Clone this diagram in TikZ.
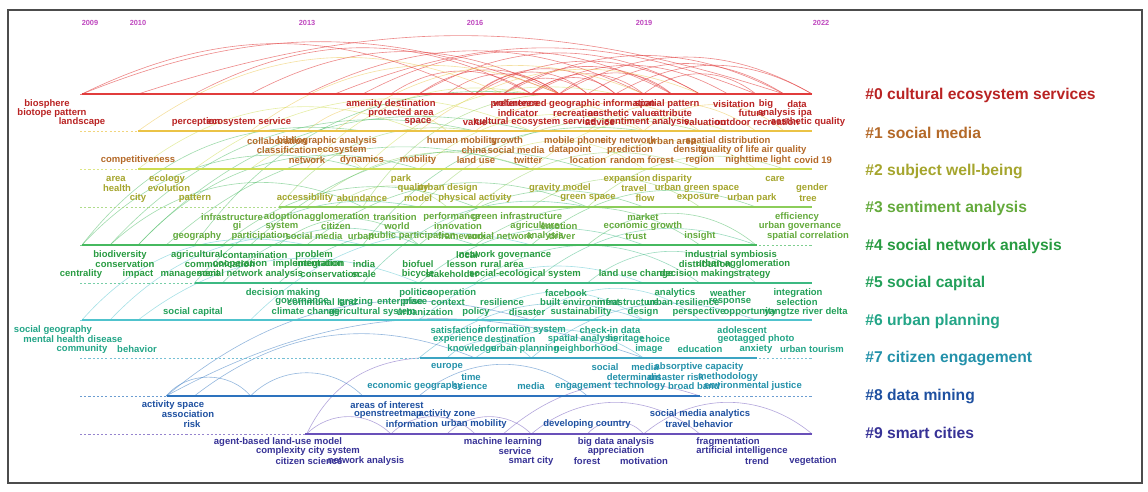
\documentclass[tikz,border=0pt]{standalone}
\usepackage{fontspec}
\setmainfont{Liberation Sans}
\usepackage{tikz}

\definecolor{t0}{RGB}{185,35,35}
\definecolor{t1}{RGB}{180,105,40}
\definecolor{t2}{RGB}{165,165,45}
\definecolor{t3}{RGB}{100,170,60}
\definecolor{t4}{RGB}{40,155,65}
\definecolor{t5}{RGB}{35,160,90}
\definecolor{t6}{RGB}{35,165,135}
\definecolor{t7}{RGB}{35,145,170}
\definecolor{t8}{RGB}{30,80,160}
\definecolor{t9}{RGB}{55,50,150}
\definecolor{l0}{RGB}{225,60,60}
\definecolor{l1}{RGB}{235,195,70}
\definecolor{l2}{RGB}{205,220,80}
\definecolor{l3}{RGB}{140,205,90}
\definecolor{l4}{RGB}{70,185,95}
\definecolor{l5}{RGB}{60,185,130}
\definecolor{l6}{RGB}{80,195,205}
\definecolor{l7}{RGB}{60,165,195}
\definecolor{l8}{RGB}{45,115,190}
\definecolor{l9}{RGB}{105,80,185}
\definecolor{yearcol}{RGB}{190,70,190}

\tikzstyle{kw} = [font=\bfseries\fontsize{5.4}{6}\selectfont, inner sep=0pt]
\tikzstyle{clab} = [font=\bfseries\fontsize{8.9}{10}\selectfont, inner sep=0pt, anchor=west]
\tikzstyle{year} = [font=\bfseries\fontsize{4.2}{5}\selectfont, inner sep=0pt, text=yearcol]
\tikzstyle{tline} = [line width=1.1pt]
\tikzstyle{tfaint} = [line width=0.4pt, dash pattern=on 1.2pt off 1.2pt]
\tikzstyle{arc} = [line width=0.35pt, opacity=0.5]
\tikzstyle{frame} = [draw=black!70, line width=0.6pt]

\begin{document}
\begin{tikzpicture}[x=0.02cm, y=-0.02cm]
\useasboundingbox (0,0) rectangle (1148,492);
\draw [frame] (8,10) rectangle (1142,483);

% year marks
\node [year] (y2009) at (90,23) {2009};
\node [year] (y2010) at (138,23) {2010};
\node [year] (y2013) at (307,23) {2013};
\node [year] (y2016) at (475,23) {2016};
\node [year] (y2019) at (644,23) {2019};
\node [year] (y2022) at (821,23) {2022};

% anchor points on every timeline, half a year apart
\foreach \c/\yy in {0/94,1/131,2/169,3/207,4/245,5/283,6/320,7/358,8/396,9/434}
  \foreach \k in {0,...,26}
    \coordinate (p\c-\k) at ({82+28.08*\k},\yy);

% links
\foreach \a/\b/\t in {0-0/0-17/22, 0-0/0-14/26, 0-4/0-16/28, 0-6/0-17/28, 0-8/0-20/26, 0-10/0-21/28, 0-12/0-22/30, 0-14/0-19/38, 0-15/0-21/34, 0-16/0-23/30, 0-17/0-26/30, 0-18/0-25/32, 0-20/0-24/38, 0-13/0-17/38, 0-16/0-20/38, 0-11/0-16/34, 0-19/0-26/30, 0-15/0-18/40, 0-2/0-25/18, 0-9/0-24/22, 0-14/0-22/30, 0-14/0-18/42, 0-16/0-19/42, 0-17/0-21/40, 0-12/0-17/36, 0-15/0-25/28}
  \draw [arc, draw=l0, opacity=0.6] (p\a) to[bend left=\t] (p\b);
\foreach \a/\b/\t in {1-2/0-15/30, 1-6/0-17/30, 1-9/0-20/30, 1-12/0-22/30, 1-14/1-20/35, 1-16/1-22/35, 1-18/1-24/35, 1-8/1-13/40, 1-20/1-25/40}
  \draw [arc, draw=l1] (p\a) to[bend left=\t] (p\b);
\foreach \a/\b/\t in {2-2/1-12/30, 2-4/1-16/30, 2-8/0-16/30, 2-12/1-20/30, 2-14/2-20/35, 2-6/2-10/40, 2-10/0-19/28, 2-16/1-23/30, 2-18/2-24/35}
  \draw [arc, draw=l2] (p\a) to[bend left=\t] (p\b);
\foreach \a/\b/\t in {3-7/1-14/30, 3-8/2-16/30, 3-10/0-18/30, 3-12/1-22/30, 3-14/2-22/30, 3-16/3-22/35, 3-9/3-13/40, 3-18/2-25/30}
  \draw [arc, draw=l3] (p\a) to[bend left=\t] (p\b);
\foreach \a/\b/\t in {4-0/2-10/32, 4-1/1-14/30, 4-2/1-16/30, 4-3/2-16/30, 4-4/0-16/30, 4-5/3-14/30, 4-6/2-18/30, 4-8/3-18/30, 4-10/1-20/30, 4-12/3-20/30, 4-14/4-22/35, 4-16/3-24/30, 4-1/3-10/34, 4-2/2-12/32, 4-0/1-10/30, 4-7/4-12/40, 4-18/4-24/40}
  \draw [arc, draw=l4] (p\a) to[bend left=\t] (p\b);
\foreach \a/\b/\t in {5-4/3-12/30, 5-7/4-14/30, 5-10/3-18/30, 5-12/4-20/30, 5-14/5-22/35, 5-16/4-24/30, 5-5/4-12/35, 5-18/5-24/40}
  \draw [arc, draw=l5] (p\a) to[bend left=\t] (p\b);
\foreach \a/\b/\t in {6-0/4-8/30, 6-2/5-12/30, 6-6/4-16/30, 6-12/5-20/30, 6-14/6-20/35, 6-1/4-10/30, 6-16/6-22/40}
  \draw [arc, draw=l6] (p\a) to[bend left=\t] (p\b);
\foreach \a/\b/\t in {7-12/6-20/30, 7-14/7-20/35, 7-16/6-24/30, 7-13/7-16/45}
  \draw [arc, draw=l7] (p\a) to[bend left=\t] (p\b);
\foreach \a/\b/\t in {8-3/6-16/28, 8-3/8-6/50, 8-4/7-14/30, 8-6/8-10/45, 8-12/8-18/40, 8-3/7-20/24}
  \draw [arc, draw=l8] (p\a) to[bend left=\t] (p\b);
\foreach \a/\b/\t in {9-8/7-12/30, 9-8/9-11/45, 9-11/9-14/45, 9-13/9-16/45, 9-16/9-22/40, 9-18/9-20/50, 9-20/9-26/40, 9-15/8-22/30}
  \draw [arc, draw=l9] (p\a) to[bend left=\t] (p\b);

% timelines
\foreach \c/\yy/\s/\e in {0/94/82/812, 1/131/138/812, 2/169/138/812, 3/207/279/812, 4/245/82/757, 5/283/195/812, 6/320/82/812, 7/358/420/757, 8/396/167/700, 9/434/305/812} {
  \coordinate (a\c) at (80,\yy);
  \coordinate (s\c) at (\s,\yy);
  \coordinate (e\c) at (\e,\yy);
  \coordinate (z\c) at (812,\yy);
  \draw [tfaint, draw=l\c!70] (a\c) -- (z\c);
  \draw [tline, draw=l\c] (s\c) -- (e\c);
}

% keywords
\foreach \x/\y/\w [count=\i] in {47/104/biosphere, 391/104/amenity destination, 515/104/preference, 574/104/volunteered geographic information, 667/104/spatial pattern, 734/104/visitation, 766/104/big, 797/104/data, 52/113/biotope pattern, 401/113/protected area, 518/113/indicator, 576/113/recreation, 622/113/aesthetic value, 673/113/attribute, 752/113/future, 785/113/analysis ipa, 82/122/landscape, 196/122/perception, 249/122/ecosystem service, 418/122/space, 475/122/value, 535/122/cultural ecosystem service, 600/122/advice, 647/122/sentiment analysis, 705/122/valuation, 757/122/outdoor recreation, 808/122/aesthetic quality}
  \node [kw, text=t0] (k0-\i) at (\x,\y) {\w};
\foreach \x/\y/\w [count=\i] in {277/141/collaboration, 327/141/bibliographic analysis, 462/141/human mobility, 507/141/growth, 575/141/mobile phone, 628/141/city network, 672/141/urban area, 728/141/spatial distribution, 287/150/classification, 342/150/ecosystem, 474/150/china, 516/150/social media, 570/150/datapoint, 630/150/prediction, 690/150/density, 730/150/quality of life, 784/150/air quality, 138/160/competitiveness, 307/160/network, 362/160/dynamics, 418/160/mobility, 476/160/land use, 528/160/twitter, 588/160/location, 642/160/random forest, 700/160/region, 758/160/nighttime light, 813/160/covid 19}
  \node [kw, text=t1] (k1-\i) at (\x,\y) {\w};
\foreach \x/\y/\w [count=\i] in {116/179/area, 167/179/ecology, 401/179/park, 627/179/expansion, 672/179/disparity, 775/179/care, 117/188/health, 169/188/evolution, 413/188/quality, 448/188/urban design, 560/188/gravity model, 634/188/travel, 697/188/urban green space, 812/188/gender, 138/198/city, 195/198/pattern, 305/198/accessibility, 362/198/abundance, 418/198/model, 475/198/physical activity, 588/198/green space, 645/198/flow, 698/198/exposure, 752/198/urban park, 808/198/tree}
  \node [kw, text=t2] (k2-\i) at (\x,\y) {\w};
\foreach \x/\y/\w [count=\i] in {232/217/infrastructure, 284/217/adoption, 337/217/agglomeration, 395/217/transition, 452/217/performance, 517/217/green infrastructure, 643/217/market, 797/217/efficiency, 237/226/gi, 282/226/system, 336/226/citizen, 397/226/world, 458/226/innovation, 535/226/agriculture, 559/226/emotion, 643/226/economic growth, 800/226/urban governance, 197/236/geography, 260/236/participation, 314/236/social media, 361/236/urban, 412/236/public participation, 462/236/framework, 500/236/social network, 545/236/analysis, 562/236/driver, 636/236/trust, 700/236/insight, 808/236/spatial correlation}
  \node [kw, text=t3] (k3-\i) at (\x,\y) {\w};
\foreach \x/\y/\w [count=\i] in {120/255/biodiversity, 197/255/agricultural, 255/255/contamination, 314/255/problem, 467/255/local, 505/255/network governance, 731/255/industrial symbiosis, 125/264/conservation, 220/264/communication, 240/264/cooperation, 308/264/implementation, 320/264/integration, 364/264/india, 418/264/biofuel, 462/264/lesson, 502/264/rural area, 705/264/distribution, 743/264/urban agglomeration, 81/274/centrality, 138/274/impact, 190/274/management, 250/274/social network analysis, 330/274/conservation, 364/274/scale, 418/274/bicycle, 452/274/stakeholder, 525/274/social-ecological system, 636/274/land use change, 697/274/decision making, 752/274/strategy}
  \node [kw, text=t4] (k4-\i) at (\x,\y) {\w};
\foreach \x/\y/\w [count=\i] in {283/293/decision making, 416/293/politics, 449/293/cooperation, 566/293/facebook, 675/293/analytics, 728/293/weather, 798/293/integration, 302/302/governance, 322/302/communal land, 356/302/grazing, 400/302/enterprise, 415/302/place, 448/302/context, 502/302/resilience, 580/302/built environment, 628/302/infrastructure, 683/302/urban resilience, 730/302/response, 797/302/selection, 193/312/social capital, 306/312/climate change, 372/312/agricultural system, 425/312/urbanization, 476/312/policy, 527/312/disaster, 581/312/sustainability, 643/312/design, 699/312/perspective, 750/312/opportunity, 806/312/yangtze river delta}
  \node [kw, text=t5] (k5-\i) at (\x,\y) {\w};
\foreach \x/\y/\w [count=\i] in {53/330/social geography, 457/330/satisfaction, 522/330/information system, 610/330/check-in data, 742/330/adolescent, 54/339/mental health, 105/339/disease, 458/339/experience, 510/339/destination, 583/339/spatial analysis, 626/339/heritage, 655/339/choice, 756/339/geotagged photo, 82/349/community, 137/349/behavior, 472/349/knowledge, 525/349/urban planning, 586/349/neighborhood, 649/349/image, 700/349/education, 756/349/anxiety, 812/349/urban tourism}
  \node [kw, text=t6] (k6-\i) at (\x,\y) {\w};
\foreach \x/\y/\w [count=\i] in {447/367/europe, 605/367/social, 645/367/media, 699/367/absorptive capacity, 471/377/time, 634/377/determinant, 676/377/disaster risk, 728/377/methodology, 415/386/economic geography, 470/386/science, 531/386/media, 583/386/engagement, 640/386/technology, 694/386/broad band, 753/386/environmental justice}
  \node [kw, text=t7] (k7-\i) at (\x,\y) {\w};
\foreach \x/\y/\w [count=\i] in {173/405/activity space, 387/405/areas of interest, 188/414/association, 388/414/openstreetmap, 447/414/activity zone, 700/414/social media analytics, 192/424/risk, 412/424/information, 474/424/urban mobility, 587/424/developing country, 699/424/travel behavior}
  \node [kw, text=t8] (k8-\i) at (\x,\y) {\w};
\foreach \x/\y/\w [count=\i] in {278/442/agent-based land-use model, 503/442/machine learning, 616/442/big data analysis, 728/442/fragmentation, 308/451/complexity city system, 515/451/service, 616/451/appreciation, 742/451/artificial intelligence, 309/461/citizen science, 366/461/network analysis, 531/461/smart city, 587/461/forest, 644/461/motivation, 757/461/trend, 813/461/vegetation}
  \node [kw, text=t9] (k9-\i) at (\x,\y) {\w};

% cluster labels
\node [clab, text=t0] (lab0) at (865,95) {\#0 cultural ecosystem services};
\node [clab, text=t1] (lab1) at (865,133) {\#1 social media};
\node [clab, text=t2] (lab2) at (865,171) {\#2 subject well-being};
\node [clab, text=t3] (lab3) at (865,208) {\#3 sentiment analysis};
\node [clab, text=t4] (lab4) at (865,246) {\#4 social network analysis};
\node [clab, text=t5] (lab5) at (865,283) {\#5 social capital};
\node [clab, text=t6] (lab6) at (865,321) {\#6 urban planning};
\node [clab, text=t7] (lab7) at (865,358) {\#7 citizen engagement};
\node [clab, text=t8] (lab8) at (865,396) {\#8 data mining};
\node [clab, text=t9] (lab9) at (865,433) {\#9 smart cities};
\end{tikzpicture}
\end{document}
